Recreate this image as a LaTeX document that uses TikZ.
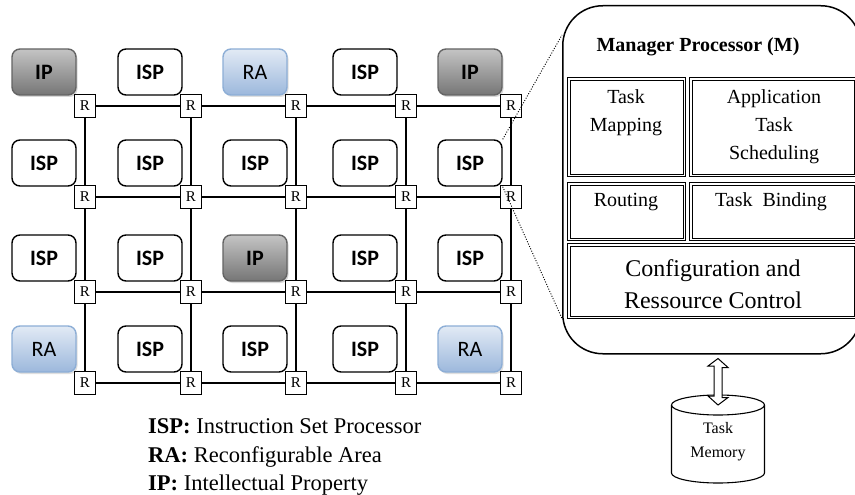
\documentclass[tikz,border=0pt]{standalone}
\usepackage{fontspec}
\setmainfont{Liberation Serif}
\newfontfamily\tilefont{Carlito}
\usetikzlibrary{shadows,calc}

\definecolor{ipedge}{RGB}{100,100,100}
\definecolor{iptop}{RGB}{196,196,196}
\definecolor{ipbottom}{RGB}{118,118,118}
\definecolor{raedge}{RGB}{141,174,214}
\definecolor{ratop}{RGB}{226,234,245}
\definecolor{rabottom}{RGB}{156,184,220}

\tikzset{
  tile/.style={rounded corners=8pt, line width=1.4pt, minimum width=64pt,
    minimum height=46pt, inner sep=0pt},
  isp/.style={tile, draw=black, fill=white,
    font=\tilefont\bfseries\fontsize{22}{24}\selectfont},
  ip/.style={tile, draw=ipedge, top color=iptop, bottom color=ipbottom,
    drop shadow={shadow xshift=1.5pt, shadow yshift=-2pt, opacity=0.3},
    font=\tilefont\bfseries\fontsize{22}{24}\selectfont},
  ra/.style={tile, draw=raedge, top color=ratop, bottom color=rabottom,
    drop shadow={shadow xshift=1.5pt, shadow yshift=-2pt, opacity=0.25},
    font=\tilefont\fontsize{22}{24}\selectfont},
  router/.style={draw, line width=1.2pt, fill=white, minimum width=21pt,
    minimum height=23pt, inner sep=0pt, font=\fontsize{15}{16}\selectfont},
  meshlink/.style={line width=1.4pt},
  unit/.style={draw, line width=1.3pt, anchor=north west, inner sep=0pt},
  unittext/.style={align=center, font=\fontsize{20}{28}\selectfont},
  zoomline/.style={line width=0.9pt, dash pattern=on 1pt off 1.6pt},
  legend/.style={anchor=base west, inner sep=0pt, font=\fontsize{22.5}{26}\selectfont},
}

\begin{document}
\begin{tikzpicture}[x=1pt, y=-1pt]
\path[fill=white, use as bounding box] (0,0) rectangle (855,495);

% router positions of the 5x4 mesh
\foreach \r/\y in {1/106,2/197,3/292,4/383}
  \foreach \c/\x in {1/85,2/191,3/296,4/406,5/511}
    \coordinate (P\r\c) at (\x,\y);

% processing tiles, each up-left of its router
\foreach \r/\c/\k/\t in {
    1/1/ip/IP, 1/2/isp/ISP, 1/3/ra/RA, 1/4/isp/ISP, 1/5/ip/IP,
    2/1/isp/ISP, 2/2/isp/ISP, 2/3/isp/ISP, 2/4/isp/ISP, 2/5/isp/ISP,
    3/1/isp/ISP, 3/2/isp/ISP, 3/3/ip/IP, 3/4/isp/ISP, 3/5/isp/ISP,
    4/1/ra/RA, 4/2/isp/ISP, 4/3/isp/ISP, 4/4/isp/ISP, 4/5/ra/RA}
  \node[\k] (T\r\c) at ($(P\r\c)+(-41,-34)$) {\t};

% routers
\foreach \r in {1,2,3,4}
  \foreach \c in {1,2,3,4,5}
    \node[router] (R\r\c) at (P\r\c) {R};

% mesh links: rows, then columns
\foreach \r in {1,2,3,4}
  \foreach \a/\b in {1/2,2/3,3/4,4/5}
    \draw[meshlink] (R\r\a) -- (R\r\b);
\foreach \c in {1,2,3,4,5}
  \foreach \a/\b in {1/2,2/3,3/4}
    \draw[meshlink] (R\a\c) -- (R\b\c);

% manager processor
\node[draw, line width=1.5pt, rounded corners=40pt, minimum width=298pt,
      minimum height=348pt, anchor=north west] (mgr) at (562,5) {};
\node[font=\bfseries\fontsize{20}{24}\selectfont] (mtitle) at (698,47) {Manager Processor (M)};

\node[unit, minimum width=118pt, minimum height=99pt] (uMap)   at (567,77)  {};
\node[unit, minimum width=167pt, minimum height=99pt] (uSched) at (689,77)  {};
\node[unit, minimum width=118pt, minimum height=58pt] (uRoute) at (567,182) {};
\node[unit, minimum width=167pt, minimum height=58pt] (uBind)  at (689,182) {};
\node[unit, minimum width=289pt, minimum height=75pt] (uConf)  at (567,243) {};
\foreach \b in {uMap,uSched,uRoute,uBind,uConf}
  \draw[line width=0.5pt] ([xshift=3pt,yshift=-3pt]\b.north west)
                rectangle ([xshift=-3pt,yshift=3pt]\b.south east);

\node[unittext] (xMap)   at (626,113) {Task\\Mapping};
\node[unittext] (xSched) at (774,127) {Application\\Task\\Scheduling};
\node[unittext] (xRoute) at (626,202) {Routing};
\node[unittext] (xBind)  at (771,202) {Task~~Binding};
\node[unittext, font=\fontsize{24}{32}\selectfont] (xConf) at (713,284)
  {Configuration and\\Ressource Control};

% zoom lines from the magnified tile
\draw[zoomline] (T25.north east) -- ([yshift=-30pt]mgr.north west);
\draw[zoomline] (T25.south east) -- ([yshift=36pt]mgr.south west);

% task memory
\coordinate (cylTop) at (718,405);
\coordinate (cylBot) at (718,473);
\draw[line width=1.1pt] ($(cylTop)+(-46.5,0)$) -- ($(cylBot)+(-46.5,0)$)
  arc[start angle=180, end angle=360, x radius=46.5pt, y radius=10pt]
  -- ($(cylTop)+(46.5,0)$);
\draw[line width=1.1pt] (cylTop) ellipse[x radius=46.5pt, y radius=10pt];
\node[align=center, font=\fontsize{16}{24}\selectfont] (mem) at (718,442) {Task\\Memory};

% two-way access arrow
\coordinate (ioT) at ($(mgr.south -| cylTop)+(0,4)$);
\draw[line width=1pt, fill=white] (ioT) -- ++(10,9) -- ++(-6,0) -- ++(0,30)
  -- ++(6,0) -- (cylTop) -- ++(-10,-9) -- ++(6,0) -- ++(0,-30) -- ++(-6,0) -- cycle;

% legend
\node[legend] (lgISP) at (148,433) {\textbf{ISP:} Instruction Set Processor};
\node[legend] (lgRA)  at (148,462) {\textbf{RA:} Reconfigurable Area};
\node[legend] (lgIP)  at (148,490) {\textbf{IP:} Intellectual Property};
\end{tikzpicture}
\end{document}
